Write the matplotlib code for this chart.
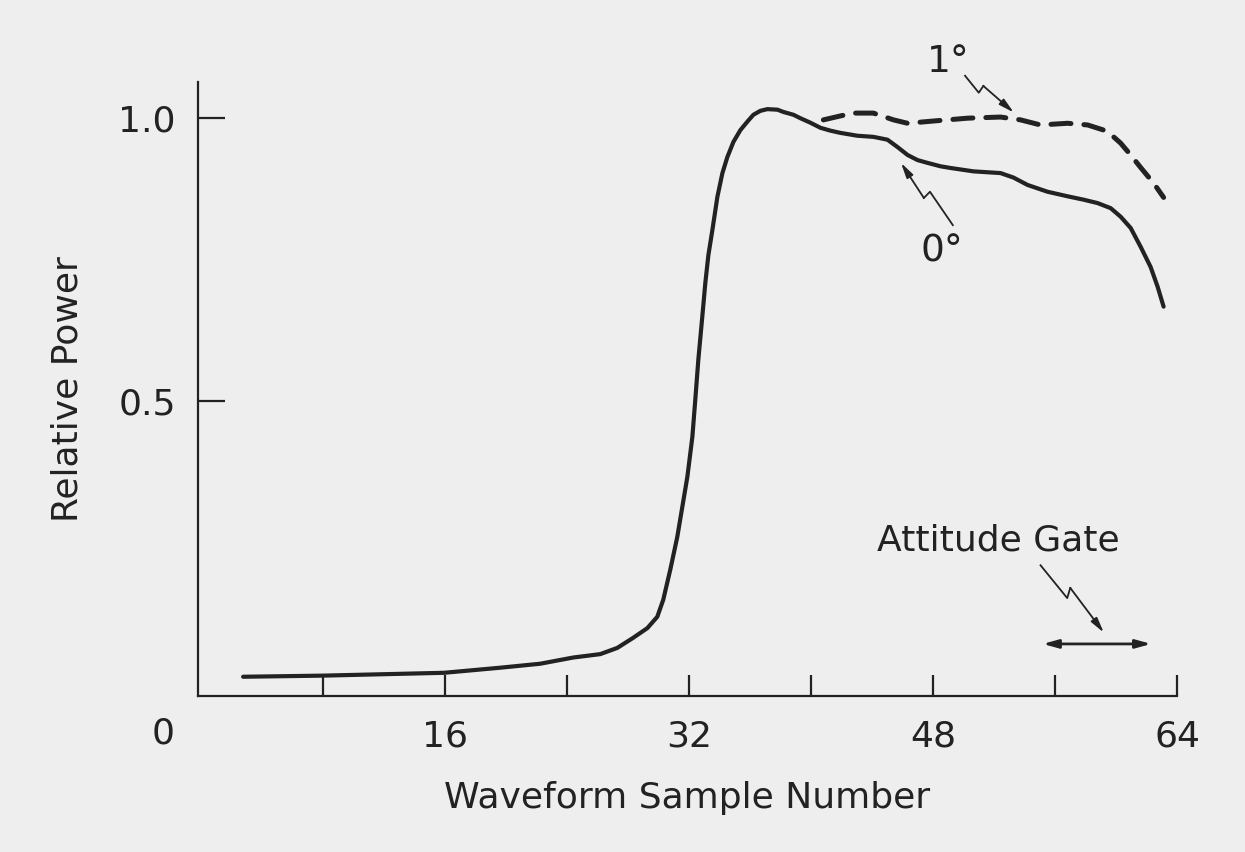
import numpy as np
import matplotlib
matplotlib.use("Agg")
from matplotlib import pyplot as plt

# 0 degree attitude (solid)
x0 = [2.76, 8.01, 15.94, 19.62, 22.24, 24.41, 26.18, 27.30, 28.35, 29.27, 29.92, 30.31,
      30.77, 31.23, 31.56, 31.89, 32.22, 32.41, 32.61, 32.87, 33.07, 33.27, 33.53, 33.86,
      34.19, 34.51, 34.91, 35.37, 35.83, 36.22, 36.68, 37.14, 37.80, 38.19, 38.85, 39.30,
      39.96, 40.62, 41.27, 41.93, 43.04, 44.09, 45.01, 45.67, 46.33, 46.98, 47.64, 48.49,
      49.15, 50.66, 52.43, 53.28, 54.20, 55.51, 56.82, 57.87, 58.79, 59.65, 60.30, 60.96,
      61.61, 62.27, 62.73, 63.12]
p0 = [0.012, 0.014, 0.019, 0.028, 0.035, 0.046, 0.052, 0.063, 0.081, 0.098, 0.118, 0.148,
      0.201, 0.259, 0.312, 0.365, 0.436, 0.501, 0.572, 0.648, 0.708, 0.757, 0.801, 0.860,
      0.902, 0.930, 0.957, 0.978, 0.993, 1.005, 1.012, 1.015, 1.014, 1.010, 1.005, 0.999,
      0.991, 0.982, 0.977, 0.973, 0.968, 0.966, 0.961, 0.948, 0.934, 0.925, 0.920, 0.914,
      0.911, 0.905, 0.902, 0.894, 0.881, 0.869, 0.861, 0.855, 0.849, 0.840, 0.825, 0.805,
      0.772, 0.736, 0.701, 0.666]

# 1 degree attitude (dashed)
x1 = [40.81, 41.93, 42.78, 44.09, 45.41, 46.33, 48.03, 50.26, 52.43, 53.74, 55.05, 56.82,
      58.14, 59.19, 59.84, 60.30, 60.96, 61.61, 62.47, 63.12]
p1 = [0.996, 1.003, 1.008, 1.008, 0.996, 0.990, 0.994, 0.999, 1.001, 0.996, 0.987, 0.990,
      0.987, 0.978, 0.966, 0.955, 0.934, 0.912, 0.884, 0.859]

xticks = [8, 16, 24, 32, 40, 48, 56, 64]
xlabels = ['', '16', '', '32', '', '48', '', '64']
yticks = [0.5, 1.0]
ylabels = ['0.5', '1.0']

gate = [55.2, 62.3]

ink = '#222222'
bg = '#eeeeee'

fig = plt.figure(figsize=(12.45, 8.52), dpi=100, facecolor=bg)
ax = fig.add_axes([0.159, 0.1831, 0.9454 - 0.159, 0.9038 - 0.1831])
ax.set_facecolor(bg)

ax.plot(x0, p0, color=ink, lw=3.0, solid_capstyle='round', solid_joinstyle='round')
ax.plot(x1, p1, color=ink, lw=3.6, dashes=(4, 2.6), dash_capstyle='round')

ax.set_xlim(-0.2, 64)
ax.set_ylim(-0.022, 1.063)
for s in ['top', 'right']:
    ax.spines[s].set_visible(False)
for s in ['left', 'bottom']:
    ax.spines[s].set_linewidth(1.6)
    ax.spines[s].set_color(ink)

ax.set_xticks(xticks)
ax.set_xticklabels(xlabels)
ax.set_yticks(yticks)
ax.set_yticklabels(ylabels)
ax.tick_params(axis='x', direction='in', length=15, width=1.6, color=ink, pad=17,
               labelsize=26, labelcolor=ink)
ax.tick_params(axis='y', direction='in', length=19.5, width=1.6, color=ink, pad=16,
               labelsize=26, labelcolor=ink)
ax.text(-2.5, -0.089, '0', ha='center', va='center', fontsize=26, color=ink)

ax.set_xlabel('Waveform Sample Number', fontsize=26, color=ink, labelpad=20)
ax.set_ylabel('Relative Power', fontsize=26, color=ink, labelpad=24)


def bolt(pts):
    xs = [p[0] for p in pts[:-1]]
    ys = [p[1] for p in pts[:-1]]
    ax.plot(xs, ys, color=ink, lw=1.3, clip_on=False)
    ax.annotate('', xy=pts[-1], xytext=pts[-2], annotation_clip=False,
                arrowprops=dict(arrowstyle='-|>,head_length=0.9,head_width=0.22',
                                color=ink, lw=1.3, shrinkA=0, shrinkB=0))


ax.text(49.0, 1.098, '1°', ha='center', va='center', fontsize=27, color=ink)
bolt([(50.1, 1.074), (51.0, 1.044), (51.3, 1.056), (53.3, 1.009)])

ax.text(48.6, 0.763, '0°', ha='center', va='center', fontsize=27, color=ink)
bolt([(49.3, 0.81), (47.8, 0.869), (47.4, 0.858), (45.9, 0.92)])

ax.text(52.3, 0.252, 'Attitude Gate', ha='center', va='center', fontsize=26, color=ink)
bolt([(55.05, 0.209), (56.8, 0.151), (57.0, 0.169), (59.2, 0.090)])

ax.annotate('', xy=(gate[1], 0.070), xytext=(gate[0], 0.070),
            arrowprops=dict(arrowstyle='<|-|>,head_length=0.9,head_width=0.25',
                            color=ink, lw=2.0, shrinkA=0, shrinkB=0))

fig.savefig('out.png', dpi=100, facecolor=bg)
